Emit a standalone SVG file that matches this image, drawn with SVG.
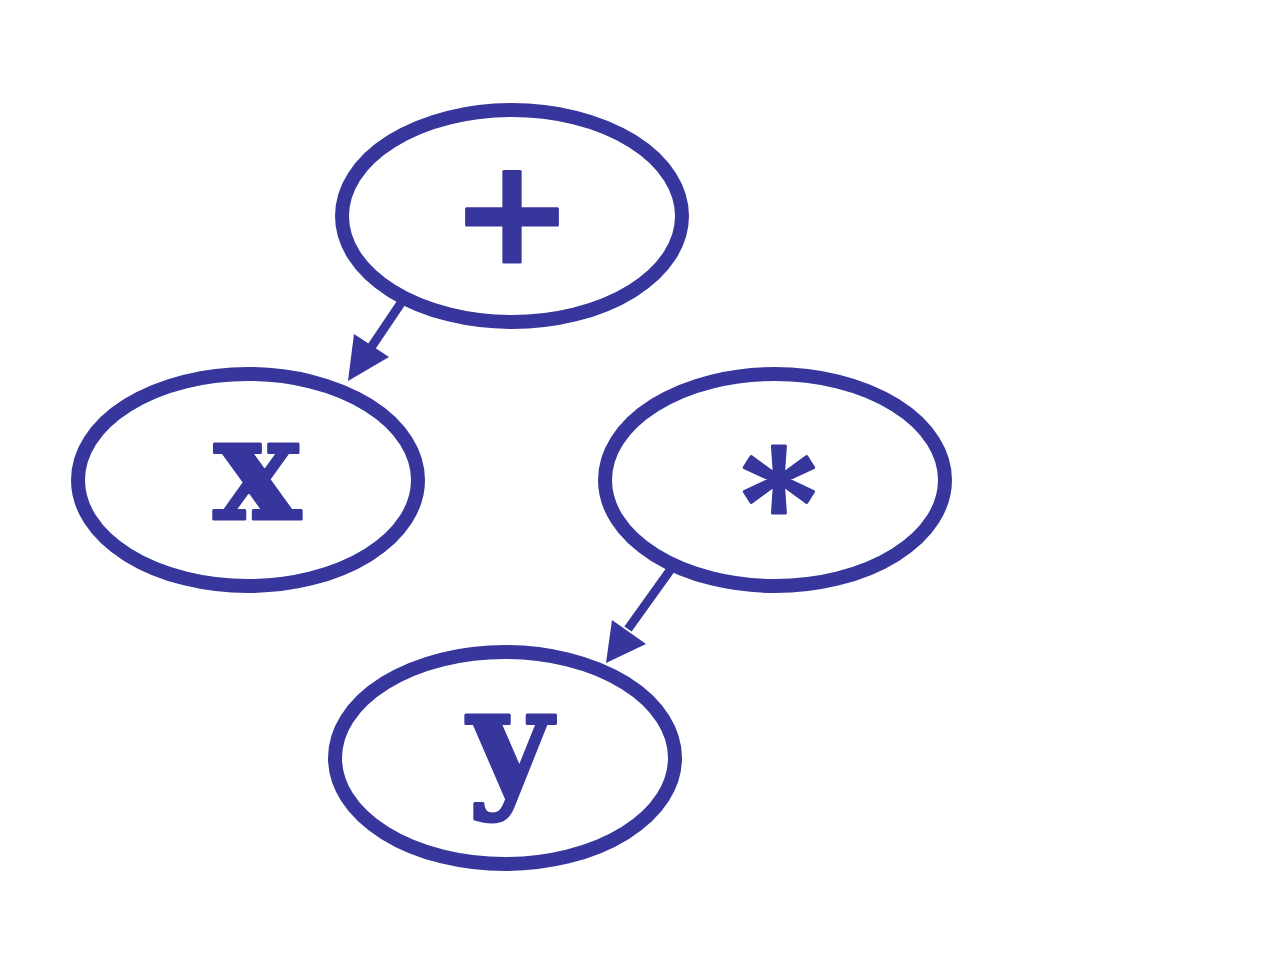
<svg xmlns="http://www.w3.org/2000/svg" width="1280" height="960" viewBox="0 0 1280 960">
<style>
.n{fill:none;stroke:#36369c;stroke-width:14}
.t{font-family:"DejaVu Serif",serif;font-weight:bold;font-size:145px;fill:#36369c;stroke:#36369c;stroke-width:3;stroke-linejoin:round;text-anchor:middle}
.e{stroke:#36369c;stroke-width:9;fill:none}
.h{fill:#36369c}
</style>
<rect width="1280" height="960" fill="#fff"/>
<g id="connectors">
<line class="e" x1="401" y1="303" x2="370" y2="349"/>
<polygon class="h" points="348,381 354,334 389,357"/>
<line class="e" x1="671" y1="569" x2="628" y2="629"/>
<polygon class="h" points="606,663 612,620 646,644"/>
</g>
<g id="plus"><ellipse class="n" cx="512" cy="216" rx="170" ry="106"/><text class="t" x="512" y="262">+</text></g>
<g id="x"><ellipse class="n" cx="248" cy="480" rx="170" ry="106"/><text class="t" x="257" y="519">x</text></g>
<g id="times"><ellipse class="n" cx="775" cy="480" rx="170" ry="106"/><text class="t" x="779" y="553">*</text></g>
<g id="y"><ellipse class="n" cx="505" cy="758" rx="170" ry="106"/><text class="t" x="510" y="790">y</text></g>
</svg>
